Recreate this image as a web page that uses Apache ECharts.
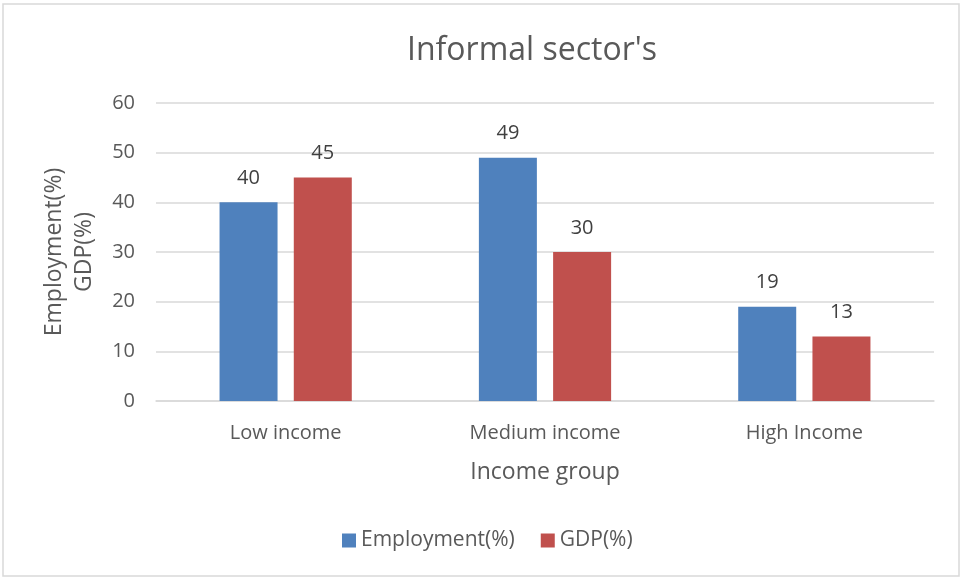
<!DOCTYPE html>
<html style="height: 100%">
<head>
  <meta charset="utf-8">
  <script src="https://cdn.jsdelivr.net/npm/echarts@6/dist/echarts.min.js"></script>
</head>
<body style="height: 100%; margin: 0; background: #fff">
  <div id="container" style="width: 964px; height: 580px"></div>
  <script type="text/javascript">
var categories = ['Low income', 'Medium income', 'High Income'];
var employment = [40, 49, 19];
var gdp = [45, 30, 13];

var textColor = '#595959';
var font = 'Open Sans';

var myChart = echarts.init(document.getElementById('container'));

var labelStyle = {
    show: true,
    position: 'top',
    distance: 14,
    color: '#404040',
    fontFamily: font,
    fontSize: 20
};

var option = {
    backgroundColor: '#fff',
    animation: false,
    title: {
        text: "Informal sector's",
        left: 402,
        top: 30,
        textStyle: {
            color: textColor,
            fontFamily: font,
            fontSize: 32,
            fontWeight: 'normal'
        }
    },
    graphic: [{
        type: 'rect',
        shape: { x: 3, y: 4, width: 956, height: 572 },
        style: { fill: 'none', stroke: '#d9d9d9', lineWidth: 1.5 },
        silent: true
    }],
    legend: {
        bottom: 24,
        left: 337,
        icon: 'rect',
        itemWidth: 14,
        itemHeight: 14,
        itemGap: 26,
        textStyle: { color: textColor, fontFamily: font, fontSize: 21 },
        data: ['Employment(%)', 'GDP(%)']
    },
    grid: {
        left: 156,
        right: 30,
        top: 103,
        bottom: 179
    },
    xAxis: {
        type: 'category',
        data: categories,
        name: 'Income group',
        nameLocation: 'middle',
        nameGap: 60,
        nameTextStyle: { color: textColor, fontFamily: font, fontSize: 23 },
        axisLine: { lineStyle: { color: '#d9d9d9', width: 1.5 } },
        axisTick: { show: false },
        axisLabel: { color: textColor, fontFamily: font, fontSize: 20, margin: 22 }
    },
    yAxis: {
        type: 'value',
        min: 0,
        max: 60,
        interval: 10,
        name: 'Employment(%)\nGDP(%)',
        nameLocation: 'middle',
        nameGap: 57,
        nameTextStyle: { color: textColor, fontFamily: font, fontSize: 23, lineHeight: 30 },
        axisLine: { show: false },
        axisTick: { show: false },
        splitLine: { lineStyle: { color: '#d9d9d9', width: 1.5 } },
        axisLabel: { color: textColor, fontFamily: font, fontSize: 20, margin: 21 }
    },
    series: [{
        name: 'Employment(%)',
        type: 'bar',
        data: employment,
        barWidth: 58,
        barGap: '28%',
        itemStyle: { color: '#4F81BD' },
        label: labelStyle
    }, {
        name: 'GDP(%)',
        type: 'bar',
        data: gdp,
        barWidth: 58,
        itemStyle: { color: '#C0504D' },
        label: labelStyle
    }]
};

myChart.setOption(option, true);
  </script>
</body>
</html>
